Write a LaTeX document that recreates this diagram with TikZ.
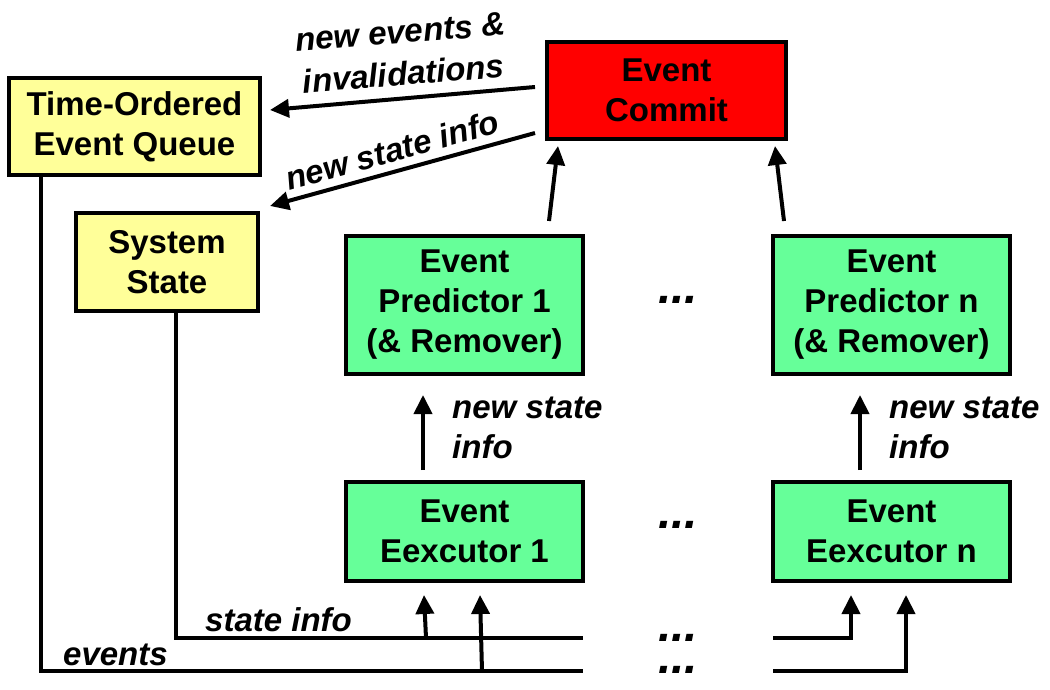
\documentclass[tikz,border=0pt]{standalone}
\usepackage{fontspec}
\setmainfont{Liberation Sans}
\usetikzlibrary{arrows.meta,calc}
\definecolor{qyellow}{HTML}{FFFF99}
\definecolor{qgreen}{HTML}{66FF99}
\definecolor{qred}{HTML}{FF0000}
\tikzset{
  box/.style={draw=black, line width=4pt, inner sep=0pt, align=center,
    font=\bfseries\fontsize{33}{40}\selectfont},
  ybox/.style={box, fill=qyellow},
  gbox/.style={box, fill=qgreen},
  rbox/.style={box, fill=qred},
  lbl/.style={inner sep=0pt, font=\bfseries\itshape\fontsize{33}{40}\selectfont},
  dots/.style={inner sep=0pt, font=\bfseries\itshape\fontsize{48}{48}\selectfont},
  arr/.style={line width=4pt, -{Triangle[length=19pt,width=18pt]}},
  wire/.style={line width=4pt}
}
\begin{document}
\begin{tikzpicture}[x=1pt,y=-1pt]
\useasboundingbox (0,0) rectangle (1050,690);
% boxes
\node[ybox, minimum width=251pt, minimum height=97pt] (toeq) at (134.5,126.5) {Time-Ordered\\Event Queue};
\node[ybox, minimum width=182pt, minimum height=98pt] (ss) at (167,262) {System\\State};
\node[rbox, minimum width=239pt, minimum height=97pt] (commit) at (666.5,90.5) {Event\\Commit};
\node[gbox, minimum width=237pt, minimum height=138pt] (p1) at (464.5,305) {Event\\Predictor 1\\(\& Remover)};
\node[gbox, minimum width=237pt, minimum height=138pt] (pn) at (891.5,305) {Event\\Predictor n\\(\& Remover)};
\node[gbox, minimum width=237pt, minimum height=99pt] (e1) at (464.5,531.5) {Event\\Eexcutor 1};
\node[gbox, minimum width=237pt, minimum height=99pt] (en) at (891.5,531.5) {Event\\Eexcutor n};
% dots
\node[dots] (d1) at (678,300) {...};
\node[dots] (d2) at (678,525) {...};
\node[dots] (d3) at (678,638) {...};
\node[dots] (d4) at (678,670) {...};
% top arrows
\draw[arr] ($(commit.west)+(-10,-3.5)$) -- ($(toeq.east)+(8,-16.5)$);
\draw[arr] ($(commit.west)+(-10,42.5)$) -- ($(ss.north east)+(10,-5)$);
\node[lbl, align=center, rotate=4.5, font=\bfseries\itshape\fontsize{33}{42}\selectfont] (l1) at (402,53) {new events \&\\invalidations};
\node[lbl, rotate=15.5] (l2) at (392,150) {new state info};
% predictors to commit
\draw[arr] ($(p1.north east)+(-36,-13)$) -- ($(commit.south west)+(13,5)$);
\draw[arr] ($(pn.north west)+(13,-13)$) -- ($(commit.south east)+(-13,5)$);
% executors to predictors
\draw[arr] ($(e1.north west)+(79,-10)$) -- ($(p1.south west)+(79,19)$);
\draw[arr] ($(en.north west)+(89,-10)$) -- ($(pn.south west)+(89,19)$);
\node[lbl, align=left, anchor=north west] (l3) at (452,397) {new state\\info};
\node[lbl, align=left, anchor=north west] (l4) at (889,397) {new state\\info};
% bottom wiring
\coordinate (stL) at (583,638);
\coordinate (stR) at (773,638);
\coordinate (evL) at (583,671);
\coordinate (evR) at (773,671);
\draw[wire] ($(ss.south west)+(102,0)$) |- (stL);
\draw[wire] ($(toeq.south west)+(34,0)$) |- (evL);
\coordinate (s1) at (426,638);
\coordinate (v1) at (482,671);
\draw[arr] (s1) -- ($(e1.south west)+(80,12)$);
\draw[arr] (v1) -- ($(e1.south west)+(136,12)$);
\draw[arr] (stR) -| ($(en.south west)+(80,12)$);
\draw[arr] (evR) -| ($(en.south west)+(135,12)$);
\node[lbl, anchor=base west] (l5) at (205,631) {state info};
\node[lbl, anchor=base west] (l6) at (63,665) {events};
\end{tikzpicture}
\end{document}
